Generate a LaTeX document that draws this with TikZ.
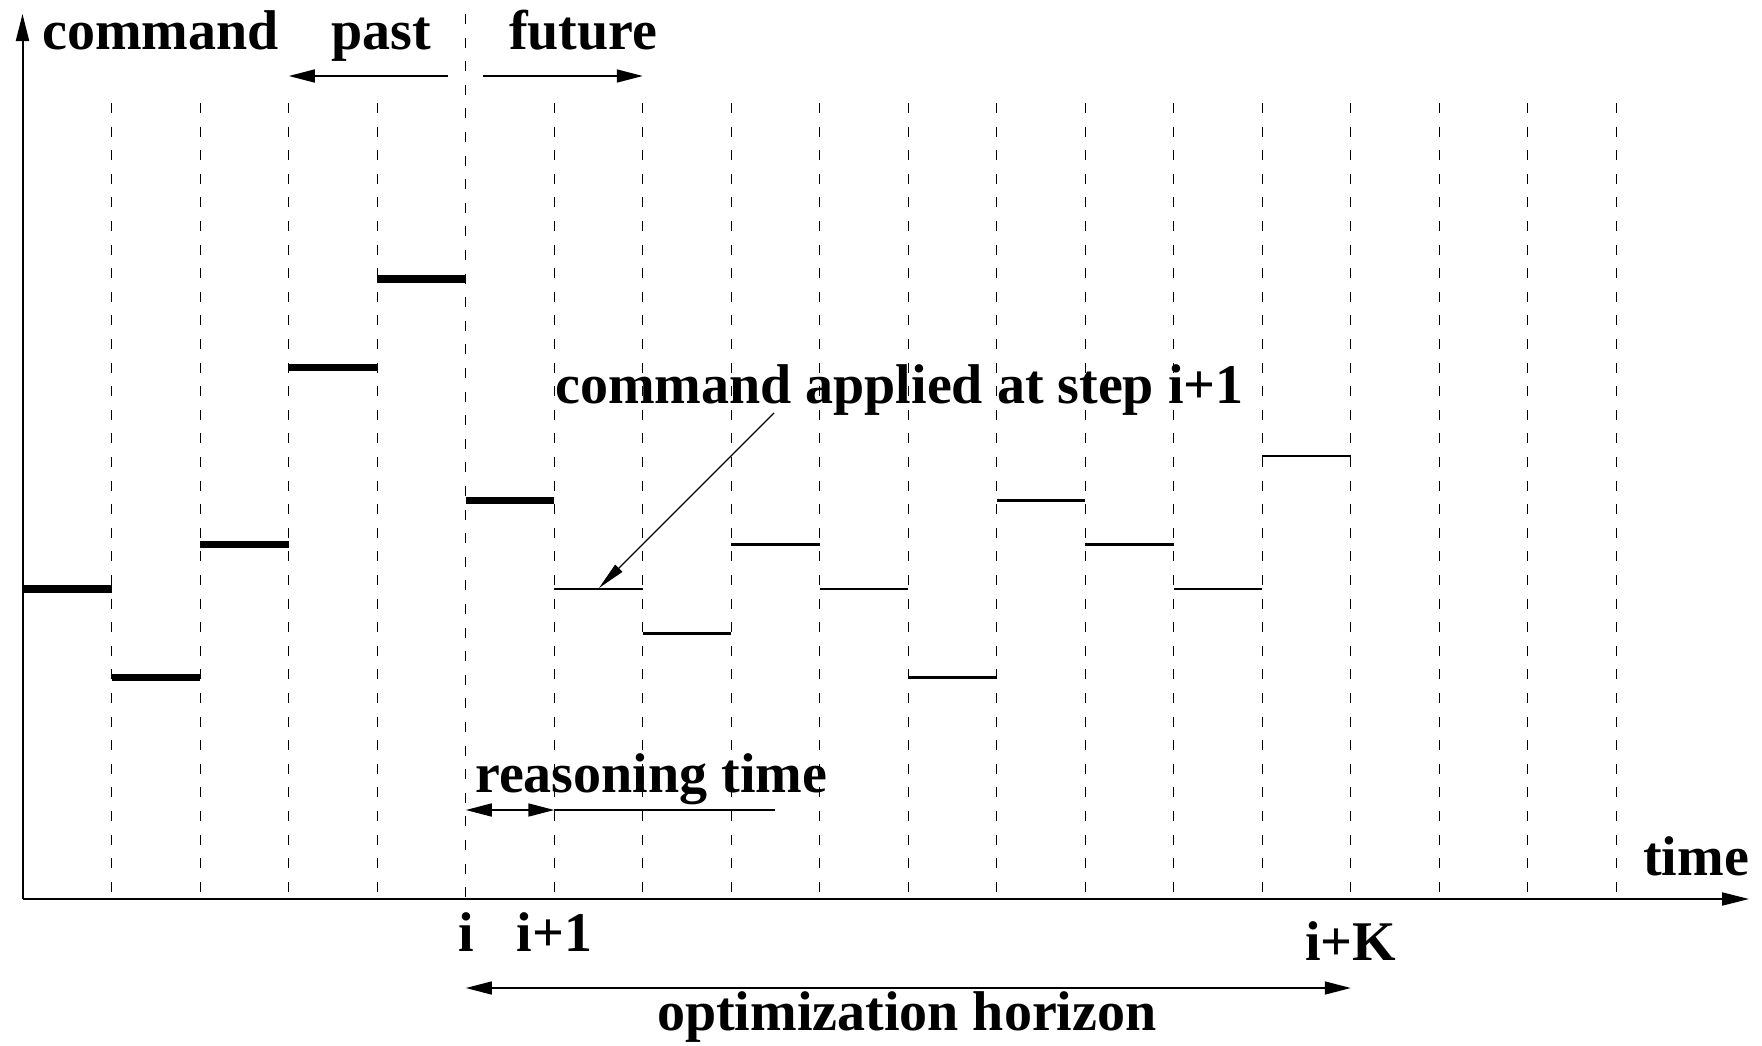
\documentclass[tikz,border=0pt]{standalone}
\usepackage{fontspec}
\setmainfont{Liberation Serif}
\usetikzlibrary{arrows.meta}
\begin{document}
\begin{tikzpicture}[x=1pt,y=-1pt,
  lbl/.style={font=\fontsize{56}{60}\selectfont\bfseries, inner sep=0pt, anchor=base west},
  gridline/.style={line width=1.3pt, dash pattern=on 10pt off 13.6pt},
  axisline/.style={line width=2pt, -{Triangle[length=27pt,width=13pt]}},
  pastbar/.style={line width=7.5pt},
  futbar/.style={line width=2.5pt},
  arr/.style={line width=1.6pt, -{Triangle[length=26pt,width=13pt]}},
  dbl/.style={line width=1.6pt, {Triangle[length=26pt,width=13pt]}-{Triangle[length=26pt,width=13pt]}},
  thinarr/.style={line width=1.2pt, -{Triangle[length=28pt,width=10pt]}},
]
\useasboundingbox (0,0) rectangle (1762,1045);
% grid coordinates
\foreach \k in {0,...,18}{
  \coordinate (t\k) at ({23.3+88.5*\k},103);
  \coordinate (g\k) at ({23.3+88.5*\k},899);
}
\coordinate (itop) at ({23.3+88.5*5},14);
% dashed grid lines
\foreach \k in {1,2,3,4,6,7,8,9,10,11,12,13,14,15,16,17,18}{
  \draw[gridline] (t\k) -- (g\k);
}
\draw[gridline] (itop) -- (g5);
% axes
\coordinate (O) at (22.5,899);
\coordinate (ytip) at (22.5,14);
\coordinate (xtip) at (1749,899);
\draw[axisline] (O) -- (ytip);
\draw[axisline] (O) -- (xtip);
% command levels
\foreach \k/\l in {0/0,1/-2,2/1,3/5,4/7,5/2,6/0,7/-1,8/1,9/0,10/-2,11/2,12/1,13/0,14/3}{
  \coordinate (bl\k) at ({23.3+88.5*\k},{589-44.3*\l});
  \coordinate (br\k) at ({23.3+88.5*(\k+1)},{589-44.3*\l});
}
\foreach \k in {0,...,5}{ \draw[pastbar] (bl\k) -- (br\k); }
\foreach \k in {6,...,14}{ \draw[futbar] (bl\k) -- (br\k); }
% labels
\node[lbl] (cmd) at (42,49) {command};
\node[lbl] (pastlbl) at (331,49) {past};
\node[lbl] (futlbl) at (509,49) {future};
\node[lbl] (timelbl) at (1643,875) {time};
\node[lbl] (cap) at (555,403) {command applied at step i+1};
\node[lbl] (rt) at (475,792) {reasoning time};
\node[lbl,anchor=base] (li) at ({23.3+88.5*5},951) {i};
\node[lbl,anchor=base] (li1) at ({23.3+88.5*6},951) {i+1};
\node[lbl,anchor=base] (liK) at ({23.3+88.5*15},960) {i+K};
\node[lbl] (oh) at (657,1030) {optimization horizon};
% past / future arrows
\coordinate (pa1) at (448,76);
\coordinate (pa2) at ({23.3+88.5*3},76);
\coordinate (fa1) at (483,76);
\coordinate (fa2) at ({23.3+88.5*7},76);
\draw[arr] (pa1) -- (pa2);
\draw[arr] (fa1) -- (fa2);
% annotation arrow
\coordinate (an1) at (774,413);
\coordinate (an2) at (599,588);
\draw[thinarr] (an1) -- (an2);
% reasoning time
\coordinate (r1) at ({23.3+88.5*5},810);
\coordinate (r2) at ({23.3+88.5*6},810);
\coordinate (r3) at (775,810);
\draw[dbl] (r1) -- (r2);
\draw[line width=1.6pt] (r2) -- (r3);
% optimization horizon
\coordinate (h1) at ({23.3+88.5*5},988);
\coordinate (h2) at ({23.3+88.5*15},988);
\draw[dbl] (h1) -- (h2);
\end{tikzpicture}
\end{document}
